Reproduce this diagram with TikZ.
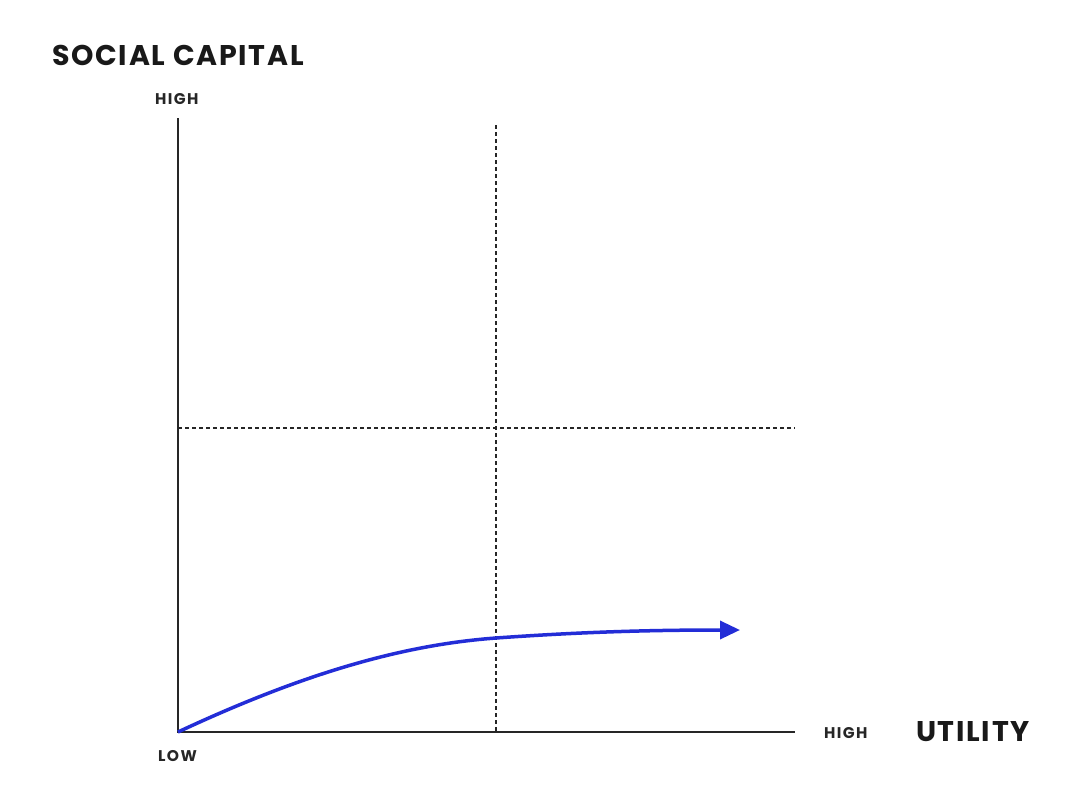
\documentclass[tikz,border=0pt]{standalone}
\usepackage{fontspec}
\setmainfont{Poppins}
\newfontfamily\spaced[LetterSpace=6]{Poppins}
\newfontfamily\spacedsmall[LetterSpace=9]{Poppins}
\usetikzlibrary{arrows.meta}
\definecolor{curveblue}{RGB}{35,45,215}
\tikzset{
  axis/.style={line width=2pt, black!85},
  guide/.style={line width=1.5pt, black!85, dash pattern=on 4pt off 3pt},
  big/.style={font=\spaced\fontsize{28.5}{30}\selectfont\bfseries, text=black!90, inner sep=0pt},
  small/.style={font=\spacedsmall\fontsize{15.5}{16}\selectfont\bfseries, text=black!85, inner sep=0pt},
  trend/.style={line width=3.5pt, curveblue, -{Triangle[length=20pt,width=18pt]}}
}
\begin{document}
\begin{tikzpicture}[x=1pt,y=-1pt]
\useasboundingbox[fill=white] (0,0) rectangle (1080,788);
\coordinate (O) at (178,732);
\coordinate (Ytop) at (178,118);
\coordinate (Xend) at (795,732);
\coordinate (Vtop) at (496,125);
\coordinate (Vbot) at (496,732);
\coordinate (Hl) at (178,428);
\coordinate (Hr) at (795,428);
\coordinate (M) at (496,638);
\coordinate (T) at (740,630);
\draw[guide] (Vtop) -- (Vbot);
\draw[guide] (Hl) -- (Hr);
\draw[axis] (Ytop) -- (O) -- (Xend);
\draw[trend] (O) .. controls (300,675) and (400,645) .. (M) .. controls (580,632) and (650,630) .. (T);
\node[big, anchor=west] (title) at (52,55) {SOCIAL CAPITAL};
\node[small, anchor=west] (yhigh) at (155,99) {HIGH};
\node[small, anchor=west] (low) at (158,756) {LOW};
\node[small, anchor=west] (xhigh) at (824,733) {HIGH};
\node[big, anchor=west] (util) at (916,732) {UTILITY};
\end{tikzpicture}
\end{document}
